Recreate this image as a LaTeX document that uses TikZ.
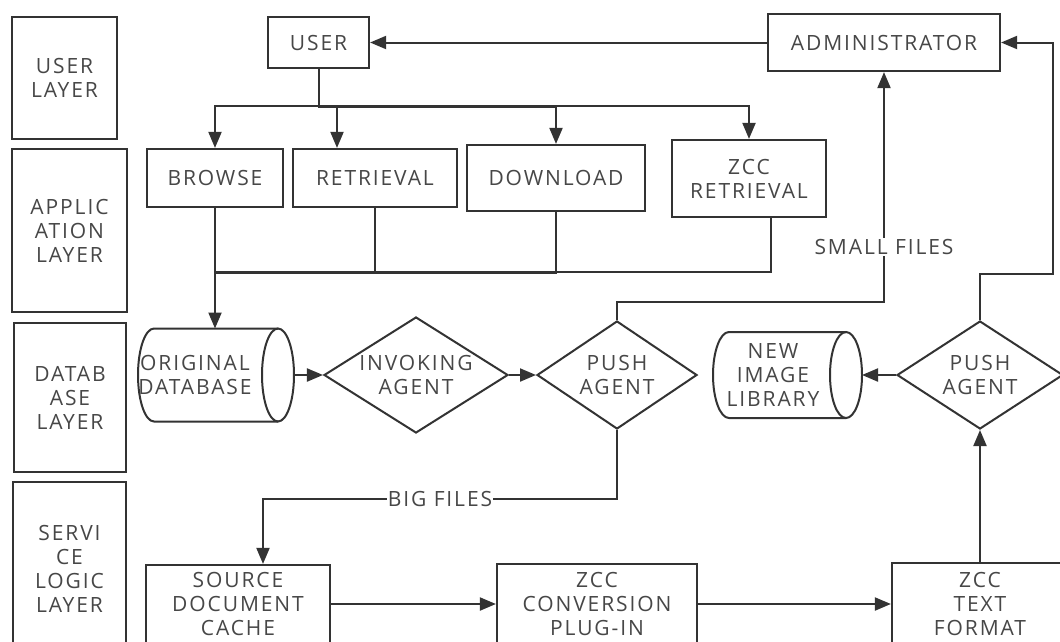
\documentclass[tikz,border=0pt]{standalone}
\usepackage{fontspec}
\setmainfont[LetterSpace=9]{Open Sans}
\usetikzlibrary{arrows.meta,shapes.geometric}

\begin{document}
\begin{tikzpicture}[x=1pt,y=-1pt,
  every node/.style={font=\fontsize{21}{24}\selectfont, text=black!72}]

\tikzset{layerbox/.style={draw=black!80, line width=2.2pt, align=center, inner sep=0pt},
procbox/.style={draw=black!80, line width=2.2pt, align=center, inner sep=0pt},
agent/.style={diamond, draw=black!80, line width=2pt, aspect=1.6, inner sep=0pt, align=center},
%the drum itself is drawn by hand around this frame
storeframe/.style={inner sep=0pt, outer sep=0pt},
storeline/.style={draw=black!80, line width=2pt},
link/.style={draw=black!80, line width=2pt},
arr/.style={link, -{Triangle[length=16pt,width=13pt]}},
flowlbl/.style={fill=white, inner sep=1pt}}

% rows of the flow
\newcommand{\dbrow}{375}
\newcommand{\svcrow}{604}
% end radius of both drums
\newcommand{\drumrx}{16pt}

\useasboundingbox (0,0) rectangle (1060,641);
\fill[white] (0,0) rectangle (1060,641);
\clip (0,0) rectangle (1060,641);

% layers on the left
\node[layerbox, minimum width=105pt, minimum height=122pt] (userlayer) at (64.5,78) {USER\\LAYER};
\node[layerbox, minimum width=115pt, minimum height=163pt] (applayer) at (69.5,230.5) {APPLIC\\ATION\\LAYER};
\node[layerbox, minimum width=112pt, minimum height=149pt] (dblayer) at (70,397.5) {DATAB\\ASE\\LAYER};
\node[layerbox, minimum width=113pt, minimum height=174pt] (svclayer) at (69.5,569) {SERVI\\CE\\LOGIC\\LAYER};

% user layer
\node[procbox, minimum width=101pt, minimum height=51pt] (user) at (318.5,42.5) {USER};
\node[procbox, minimum width=232pt, minimum height=57pt] (admin) at (884,42.5) {ADMINISTRATOR};

% application layer
\node[procbox, minimum width=136pt, minimum height=58pt] (browse) at (215,178) {BROWSE};
\node[procbox, minimum width=164pt, minimum height=58pt] (retrieval) at (375,178) {RETRIEVAL};
\node[procbox, minimum width=178pt, minimum height=66pt] (download) at (556,178) {DOWNLOAD};
\node[procbox, minimum width=154pt, minimum height=77pt] (zccret) at (749,178.5) {ZCC\\RETRIEVAL};

% database layer
\node[storeframe, minimum width=156pt, minimum height=93pt] (origdb) at (216,\dbrow) {};
\draw[storeline] ([xshift=\drumrx]origdb.north west) -- ([xshift=-\drumrx]origdb.north east)
  ([xshift=-\drumrx]origdb.south east) -- ([xshift=\drumrx]origdb.south west)
  arc[start angle=270, end angle=90, x radius=\drumrx, y radius=46.5pt];
\draw[storeline] ([xshift=-\drumrx]origdb.east) ellipse[x radius=\drumrx, y radius=46.5pt];
\node[align=center] (origdbtxt) at (195,\dbrow) {ORIGINAL\\DATABASE};

\node[agent, minimum width=184pt, minimum height=116pt] (invoking) at (416,\dbrow) {INVOKING\\AGENT};
\node[agent, minimum width=160pt, minimum height=108pt] (pushL) at (617,\dbrow) {PUSH\\AGENT};

\node[storeframe, minimum width=149pt, minimum height=86pt] (newimg) at (787.5,\dbrow) {};
\draw[storeline] ([xshift=\drumrx]newimg.north west) -- ([xshift=-\drumrx]newimg.north east)
  ([xshift=-\drumrx]newimg.south east) -- ([xshift=\drumrx]newimg.south west)
  arc[start angle=270, end angle=90, x radius=\drumrx, y radius=43pt];
\draw[storeline] ([xshift=-\drumrx]newimg.east) ellipse[x radius=\drumrx, y radius=43pt];
\node[align=center] (newimgtxt) at (773,\dbrow) {NEW\\IMAGE\\LIBRARY};

\node[agent, minimum width=166pt, minimum height=108pt] (pushR) at (980,\dbrow) {PUSH\\AGENT};

% service logic layer
\node[procbox, minimum width=184pt, minimum height=78pt] (sdc) at (238,\svcrow) {SOURCE\\DOCUMENT\\CACHE};
\node[procbox, minimum width=200pt, minimum height=80pt] (zccconv) at (597,\svcrow) {ZCC\\CONVERSION\\PLUG-IN};
\node[procbox, minimum width=176pt, minimum height=82pt] (zcctext) at (980,\svcrow) {ZCC\\TEXT\\FORMAT};

% user requests
\draw[arr] (admin) -- (user);
\draw[arr] (user.south) -- ++(0,37) -| (browse.north);
\draw[arr] (user.south) -- ++(0,37) -| ([xshift=-38pt]retrieval.north);
\draw[arr] (user.south) -- ++(0,38) -| (download.north);
\draw[arr] (user.south) -- ++(0,37) -| (zccret.north);

% everything goes to the original database
\coordinate (merge) at (browse.south |- 0,272);
\draw[arr] (browse.south) -- (browse.south |- origdb.north);
\draw[link] (retrieval.south) |- (merge);
\draw[link] (download.south) |- ([yshift=-1pt]merge);
\draw[link] ([xshift=22pt]zccret.south) |- (merge);

\draw[arr] (origdb) -- (invoking);
\draw[arr] (invoking) -- (pushL);
\draw[arr] (pushL.north) -- ++(0,-18) -| node[flowlbl, pos=0.62] {SMALL FILES} (admin.south);
\draw[arr] (pushL.south) -- ++(0,69) -| node[flowlbl, pos=0.25] {BIG FILES} ([xshift=25pt]sdc.north);

% conversion chain
\draw[arr] (sdc) -- (zccconv);
\draw[arr] (zccconv) -- (zcctext);
\draw[arr] (zcctext) -- (pushR);
\draw[arr] (pushR) -- (newimg);
\draw[arr] (pushR.north) -- ++(0,-46) -- ++(73,0) |- (admin.east);

\end{tikzpicture}
\end{document}
